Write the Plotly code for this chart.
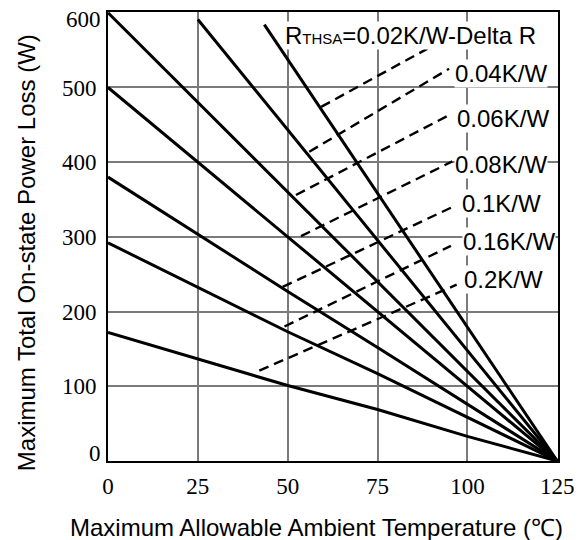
import plotly.graph_objects as go

# ---- data ----
x_full = [0, 25, 50, 75, 100, 125]
p_020 = [172, 137, 101, 69, 33, 0]
p_016 = [292, 232, 173, 117, 58, 0]
p_010 = [380, 303, 227, 152, 76, 0]
p_008 = [500, 400, 300, 200, 100, 0]
p_006 = [600, 480, 360, 240, 120, 0]
x_004 = [25, 50, 75, 100, 125]
p_004 = [591, 443, 296, 148, 0]
x_002 = [43.5, 125]
p_002 = [584, 0]

# "Delta R" dashed guide lines (start on curve -> label)
d002_x = [59.3, 88.9]; d002_y = [474, 552]
d004_x = [56.0, 94.9]; d004_y = [414, 525]
d006_x = [52.3, 94.9]; d006_y = [356, 463]
d008_x = [53.7, 95.8]; d008_y = [301, 401]
d010_x = [48.6, 95.4]; d010_y = [233, 339]
d016_x = [49.1, 95.4]; d016_y = [180, 288]
d020_x = [42.1, 97.0]; d020_y = [121, 236]

labels = ["R<span style='font-size:15px'>THSA</span>=0.02K/W-Delta R",
          "0.04K/W", "0.06K/W", "0.08K/W", "0.1K/W", "0.16K/W", "0.2K/W"]

x_ticks = [0, 25, 50, 75, 100, 125]
y_ticks = [0, 100, 200, 300, 400, 500, 600]
y_ticktext = ["", "100", "200", "300", "400", "500", ""]
edge_tick_text = ["0", "600"]

fig = go.Figure()

solid = [(x_full, p_020), (x_full, p_016), (x_full, p_010), (x_full, p_008),
         (x_full, p_006), (x_004, p_004), (x_002, p_002)]
for xs, ys in solid:
    fig.add_trace(go.Scatter(x=xs, y=ys, mode="lines",
                             line=dict(color="black", width=3), showlegend=False,
                             hoverinfo="skip"))

dashed = [(d002_x, d002_y), (d004_x, d004_y), (d006_x, d006_y), (d008_x, d008_y),
          (d010_x, d010_y), (d016_x, d016_y), (d020_x, d020_y)]
for xs, ys in dashed:
    fig.add_trace(go.Scatter(x=xs, y=ys, mode="lines",
                             line=dict(color="black", width=2.4, dash="10px,6px"),
                             showlegend=False, hoverinfo="skip"))

label_pos = [(49.1, 570), (96.3, 519), (96.8, 458), (96.3, 396.5),
             (98.2, 345), (98.4, 294), (98.9, 243)]
for txt, (lx, ly) in zip(labels, label_pos):
    fig.add_annotation(x=lx, y=ly, text=txt, showarrow=False, xanchor="left",
                       yanchor="middle", bgcolor="white", borderpad=0,
                       font=dict(family="Arial, Liberation Sans", size=24, color="black"))

# edge tick labels sit slightly inside their grid lines in the reference
for txt, ty in zip(edge_tick_text, [10, 591]):
    fig.add_annotation(xref="paper", yref="y", x=0, y=ty, text=txt,
                       showarrow=False, xanchor="right", yanchor="middle", xshift=-5,
                       font=dict(family="Liberation Serif, Times New Roman", size=23,
                                 color="black"))

# axis titles
fig.add_annotation(xref="paper", yref="paper", x=0.463, y=-0.147,
                   text="Maximum Allowable Ambient Temperature (℃)", showarrow=False,
                   xanchor="center", yanchor="middle",
                   font=dict(family="Arial, Liberation Sans", size=24, color="black"))
fig.add_annotation(xref="paper", yref="paper", x=-0.182, y=0.463,
                   text="Maximum Total On-state Power Loss (W)", showarrow=False,
                   textangle=-90, xanchor="center", yanchor="middle",
                   font=dict(family="Arial, Liberation Sans", size=24, color="black"))

axis_common = dict(showgrid=True, gridcolor="#7a7a7a", gridwidth=1.5,
                   zeroline=False, showline=True, linecolor="black", linewidth=2,
                   mirror=True, ticks="",
                   tickfont=dict(family="Liberation Serif, Times New Roman", size=23,
                                 color="black"))
fig.update_xaxes(range=[0, 125.2], tickvals=x_ticks, ticklabelstandoff=3, **axis_common)
fig.update_yaxes(range=[0, 601], tickvals=y_ticks, ticktext=y_ticktext,
                 ticklabelstandoff=5, **axis_common)

fig.update_layout(width=579, height=532, paper_bgcolor="white", plot_bgcolor="white",
                  margin=dict(l=100, r=29, t=2, b=79), showlegend=False)

fig.write_html("out.html")
